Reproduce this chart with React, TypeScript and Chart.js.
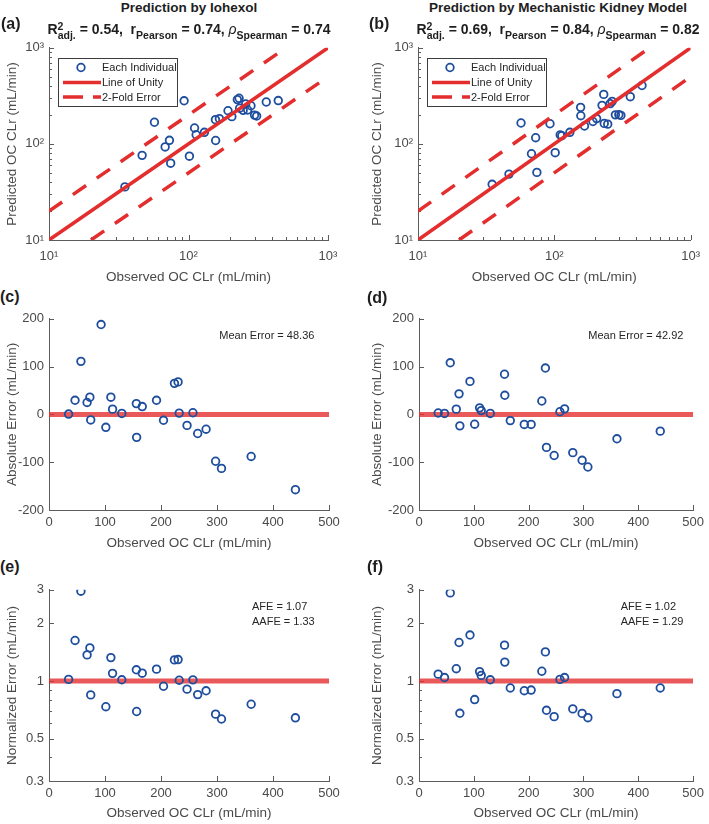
import React, { useEffect, useRef } from 'react';
import { Chart, registerables } from 'chart.js';

Chart.register(...registerables);

const FONT = "'Liberation Sans', Arial, Helvetica, sans-serif";
const BLUE = '#1f4e9e';
const RED = '#e42d2d';
const RED_REF = 'rgba(228, 48, 48, 0.8)';
const AXIS = '#5c5c5c';
const TEXT = '#4a4a4a';
const DARK = '#1e1e1e';

// ---------------- data ----------------
// Observed OC CLr (mL/min) for each individual (shared by all panels)
const OBSERVED = [35, 46.5, 57, 68, 73, 74.5, 93, 101.5, 110.5, 113.5, 130, 156, 156.5, 166.5, 192, 204.5, 224, 230.5, 232.5, 246.5, 257, 265.5, 280.5, 297.5, 308, 361, 440];

// Predicted OC CLr (mL/min)
const PRED_IOHEXOL = [35.7, 76, 168, 93, 109, 63, 281, 74.5, 146.5, 124.5, 132, 178.6, 108.5, 183, 221.5, 192, 289, 298.5, 235, 223.5, 260.5, 225.5, 249.5, 199.5, 195, 273, 282.5];
const PRED_KIDNEY = [38, 48.5, 165, 79, 116, 50.5, 162, 81, 124, 121.5, 132, 240, 196.5, 153.5, 171, 183.5, 252, 327.5, 163.5, 160.5, 262.5, 277, 200.5, 201.5, 198, 310, 405];

// Absolute error (mL/min)
const ABS_ERR_IOHEXOL = [0.7, 29.5, 111, 25, 36, -11.6, 188, -27, 36, 11, 2, 22.6, -48, 16.4, 29.5, -12.3, 65, 68, 2.7, -23, 3.4, -40, -31, -98, -113, -88, -157.5];
const ABS_ERR_KIDNEY = [3, 2, 108, 11, 43, -24, 69, -20.5, 13.7, 8, 2, 84, 40, -13, -21, -21, 28, 97, -69, -86, 5.5, 11.6, -80, -96, -110, -51, -35];

// Normalized error (null: above the axis limit, not drawn in the reference)
const NORM_ERR_IOHEXOL = [1.02, 1.63, 2.95, 1.37, 1.49, 0.846, null, 0.734, 1.326, 1.097, 1.015, 1.145, 0.693, 1.099, 1.154, 0.939, 1.29, 1.295, 1.01, 0.907, 1.014, 0.849, 0.889, 0.671, 0.633, 0.756, 0.642];
const NORM_ERR_KIDNEY = [1.086, 1.043, 2.89, 1.16, 1.59, 0.678, 1.74, 0.8, 1.12, 1.07, 1.015, 1.54, 1.256, 0.92, 0.89, 0.897, 1.125, 1.42, 0.703, 0.651, 1.02, 1.043, 0.715, 0.677, 0.643, 0.859, 0.92];

// Reference lines
const UNITY_X = [10, 1000];
const UNITY_Y = [10, 1000];
const FOLD_UP_X = [10, 500];
const FOLD_UP_Y = [20, 1000];
const FOLD_LO_X = [20, 1000];
const FOLD_LO_Y = [10, 500];
const REF_X = [0, 500];
const ZERO_Y = [0, 0];
const ONE_Y = [1, 1];

// Ticks
const LOG_TICKS = [10, 100, 1000];
const LOG_LABELS = ['10\u00B9', '10\u00B2', '10\u00B3'];
const LOG_MINOR = [20, 30, 40, 50, 60, 70, 80, 90, 200, 300, 400, 500, 600, 700, 800, 900];
const LIN_X_TICKS = [0, 100, 200, 300, 400, 500];
const LIN_X_LABELS = ['0', '100', '200', '300', '400', '500'];
const ABS_Y_TICKS = [-200, -100, 0, 100, 200];
const ABS_Y_LABELS = ['-200', '-100', '0', '100', '200'];
const NORM_Y_TICKS = [0.3, 0.5, 1, 2, 3];
const NORM_Y_LABELS = ['0.3', '0.5', '1', '2', '3'];
const NORM_Y_MINOR = [0.4, 0.6, 0.7, 0.8, 0.9];

// Texts
const LEGEND_LABELS = ['Each Individual', 'Line of Unity', '2-Fold Error'];
const STATS_IOHEXOL = ['0.54', '0.74', '0.74'];
const STATS_KIDNEY = ['0.69', '0.84', '0.82'];
const MEAN_ERR_IOHEXOL = '48.36';
const MEAN_ERR_KIDNEY = '42.92';
const AFE_IOHEXOL = ['1.07', '1.33'];
const AFE_KIDNEY = ['1.02', '1.29'];

// ---------------- helpers ----------------
const pts = (xs: number[], ys: (number | null)[]) => xs.map((x, i) => ({ x, y: ys[i] }));

const scatterDs = (data: any[], order: number) => ({
  data,
  showLine: false,
  pointStyle: 'circle',
  pointRadius: 3.8,
  pointHoverRadius: 3.8,
  pointBorderWidth: 1.8,
  pointBorderColor: BLUE,
  pointBackgroundColor: 'rgba(0,0,0,0)',
  order,
});

const lineDs = (data: any[], color: string, width: number, dash: number[], order: number) => ({
  data,
  showLine: true,
  borderColor: color,
  borderWidth: width,
  borderDash: dash,
  borderCapStyle: 'butt',
  pointRadius: 0,
  pointHoverRadius: 0,
  fill: false,
  order,
});

type PanelSpec = {
  id: string;
  box: { left: number; top: number; width: number; height: number };
  padTop: number;
  padRight: number;
  yW: number;
  xH: number;
  xType: string;
  xMin: number;
  xMax: number;
  xTicks: number[];
  xLabels: string[];
  xMinor: number[];
  xTickPad: number;
  yType: string;
  yMin: number;
  yMax: number;
  yTicks: number[];
  yLabels: string[];
  yMinor: number[];
  yTitle: string;
  datasets: any[];
  legend: boolean;
};

function inwardTicks(spec: PanelSpec) {
  return {
    id: 'inwardTicks',
    beforeDatasetsDraw(chart: any) {
      const { ctx, chartArea: a } = chart;
      const xs = chart.scales.x;
      const ys = chart.scales.y;
      ctx.save();
      ctx.strokeStyle = AXIS;
      ctx.lineWidth = 1;
      ctx.beginPath();
      const bottom = Math.round(a.bottom);
      const left = Math.round(a.left);
      const drawX = (v: number, len: number) => {
        const px = Math.round(xs.getPixelForValue(v)) + 0.5;
        ctx.moveTo(px, bottom);
        ctx.lineTo(px, bottom - len);
      };
      const drawY = (v: number, len: number) => {
        const py = Math.round(ys.getPixelForValue(v)) + 0.5;
        ctx.moveTo(left, py);
        ctx.lineTo(left + len, py);
      };
      spec.xTicks.forEach((v) => drawX(v, 5));
      spec.xMinor.forEach((v) => drawX(v, 3));
      spec.yTicks.forEach((v) => drawY(v, 5));
      spec.yMinor.forEach((v) => drawY(v, 3));
      ctx.stroke();
      ctx.restore();
    },
  };
}

const legendBox = {
  id: 'legendBox',
  afterDraw(chart: any) {
    const { ctx, chartArea: a } = chart;
    const bx = Math.round(a.left + 9) + 0.5;
    const by = Math.round(a.top + 10) + 0.5;
    const bw = 119;
    const bh = 48;
    ctx.save();
    ctx.fillStyle = '#ffffff';
    ctx.fillRect(bx, by, bw, bh);
    ctx.strokeStyle = '#3c3c3c';
    ctx.lineWidth = 1;
    ctx.strokeRect(bx, by, bw, bh);
    const rows = [by + 9, by + 24, by + 38.5];
    ctx.strokeStyle = BLUE;
    ctx.lineWidth = 1.8;
    ctx.beginPath();
    ctx.arc(bx + 22.5, rows[0], 3.8, 0, Math.PI * 2);
    ctx.stroke();
    ctx.strokeStyle = RED;
    ctx.lineWidth = 3.5;
    ctx.lineCap = 'butt';
    ctx.beginPath();
    ctx.moveTo(bx + 4.5, rows[1]);
    ctx.lineTo(bx + 42.5, rows[1]);
    ctx.stroke();
    ctx.setLineDash([20, 10]);
    ctx.beginPath();
    ctx.moveTo(bx + 4.5, rows[2]);
    ctx.lineTo(bx + 42.5, rows[2]);
    ctx.stroke();
    ctx.setLineDash([]);
    ctx.fillStyle = '#262626';
    ctx.font = `11px ${FONT}`;
    ctx.textBaseline = 'middle';
    ctx.textAlign = 'left';
    LEGEND_LABELS.forEach((t, i) => ctx.fillText(t, bx + 43.5, rows[i] + 0.5));
    ctx.restore();
  },
};

function buildConfig(spec: PanelSpec): any {
  const plugins: any[] = [inwardTicks(spec)];
  if (spec.legend) plugins.push(legendBox);
  return {
    type: 'scatter',
    data: { datasets: spec.datasets },
    plugins,
    options: {
      responsive: false,
      maintainAspectRatio: false,
      animation: false,
      events: [],
      layout: { padding: { top: spec.padTop, right: spec.padRight, left: 0, bottom: 0 } },
      plugins: { legend: { display: false }, tooltip: { enabled: false }, title: { display: false } },
      scales: {
        x: {
          type: spec.xType,
          position: 'bottom',
          min: spec.xMin,
          max: spec.xMax,
          afterBuildTicks: (s: any) => {
            s.ticks = spec.xTicks.map((v) => ({ value: v }));
          },
          afterFit: (s: any) => {
            s.height = spec.xH;
          },
          ticks: {
            autoSkip: false,
            maxRotation: 0,
            minRotation: 0,
            padding: spec.xTickPad,
            color: TEXT,
            font: { size: 13, family: FONT },
            callback: (_v: any, i: number) => spec.xLabels[i],
          },
          grid: { display: false, drawTicks: false },
          border: { display: true, color: AXIS, width: 1 },
          title: {
            display: true,
            text: 'Observed OC CLr (mL/min)',
            color: TEXT,
            font: { size: 13.5, family: FONT },
            padding: { top: 0, bottom: 2 },
          },
        },
        y: {
          type: spec.yType,
          position: 'left',
          min: spec.yMin,
          max: spec.yMax,
          afterBuildTicks: (s: any) => {
            s.ticks = spec.yTicks.map((v) => ({ value: v }));
          },
          afterFit: (s: any) => {
            s.width = spec.yW;
          },
          ticks: {
            autoSkip: false,
            padding: 5,
            color: TEXT,
            font: { size: 13, family: FONT },
            callback: (_v: any, i: number) => spec.yLabels[i],
          },
          grid: { display: false, drawTicks: false },
          border: { display: true, color: AXIS, width: 1 },
          title: {
            display: true,
            text: spec.yTitle,
            color: TEXT,
            font: { size: 13.5, family: FONT },
            padding: { top: 4, bottom: 0 },
          },
        },
      },
    },
  };
}

// ---------------- panel specs ----------------
const logBase = {
  xType: 'logarithmic',
  xMin: 10,
  xMax: 1000,
  xTicks: LOG_TICKS,
  xLabels: LOG_LABELS,
  xMinor: LOG_MINOR,
  xTickPad: 9,
  yType: 'logarithmic',
  yMin: 10,
  yMax: 1000,
  yTicks: LOG_TICKS,
  yLabels: LOG_LABELS,
  yMinor: LOG_MINOR,
  yTitle: 'Predicted OC CLr (mL/min)',
  padTop: 10,
  xH: 47,
  legend: true,
};

const absBase = {
  xType: 'linear',
  xMin: 0,
  xMax: 500,
  xTicks: LIN_X_TICKS,
  xLabels: LIN_X_LABELS,
  xMinor: [],
  xTickPad: 5,
  yType: 'linear',
  yMin: -200,
  yMax: 200,
  yTicks: ABS_Y_TICKS,
  yLabels: ABS_Y_LABELS,
  yMinor: [],
  yTitle: 'Absolute Error (mL/min)',
  padTop: 10,
  xH: 43,
  legend: false,
};

const normBase = {
  ...absBase,
  yType: 'logarithmic',
  yMin: 0.3,
  yMax: 3,
  yTicks: NORM_Y_TICKS,
  yLabels: NORM_Y_LABELS,
  yMinor: NORM_Y_MINOR,
  yTitle: 'Normalized Error (mL/min)',
  xH: 42,
};

const logLines = () => [
  lineDs(pts(UNITY_X, UNITY_Y), RED, 3.5, [], 0),
  lineDs(pts(FOLD_UP_X, FOLD_UP_Y), RED, 3.5, [16, 13], 0),
  lineDs(pts(FOLD_LO_X, FOLD_LO_Y), RED, 3.5, [16, 13], 0),
];

const PANELS: PanelSpec[] = [
  {
    ...logBase,
    id: 'a',
    box: { left: 0, top: 35, width: 354, height: 252 },
    padRight: 26,
    yW: 49,
    datasets: [scatterDs(pts(OBSERVED, PRED_IOHEXOL), 1), ...logLines()],
  } as PanelSpec,
  {
    ...logBase,
    id: 'b',
    box: { left: 365, top: 35, width: 344, height: 252 },
    padRight: 12,
    yW: 53,
    datasets: [scatterDs(pts(OBSERVED, PRED_KIDNEY), 1), ...logLines()],
  } as PanelSpec,
  {
    ...absBase,
    id: 'c',
    box: { left: 0, top: 306, width: 354, height: 247 },
    padRight: 25,
    yW: 49,
    datasets: [scatterDs(pts(OBSERVED, ABS_ERR_IOHEXOL), 0), lineDs(pts(REF_X, ZERO_Y), RED_REF, 5, [], 1)],
  } as PanelSpec,
  {
    ...absBase,
    id: 'd',
    box: { left: 365, top: 306, width: 344, height: 247 },
    padRight: 12,
    yW: 54,
    datasets: [scatterDs(pts(OBSERVED, ABS_ERR_KIDNEY), 0), lineDs(pts(REF_X, ZERO_Y), RED_REF, 5, [], 1)],
  } as PanelSpec,
  {
    ...normBase,
    id: 'e',
    box: { left: 0, top: 577, width: 354, height: 246 },
    padRight: 25,
    yW: 49,
    datasets: [scatterDs(pts(OBSERVED, NORM_ERR_IOHEXOL), 0), lineDs(pts(REF_X, ONE_Y), RED_REF, 5, [], 1)],
  } as PanelSpec,
  {
    ...normBase,
    id: 'f',
    box: { left: 365, top: 577, width: 344, height: 246 },
    padRight: 12,
    yW: 54,
    datasets: [scatterDs(pts(OBSERVED, NORM_ERR_KIDNEY), 0), lineDs(pts(REF_X, ONE_Y), RED_REF, 5, [], 1)],
  } as PanelSpec,
];

function Panel({ spec }: { spec: PanelSpec }) {
  const ref = useRef<HTMLCanvasElement>(null);
  useEffect(() => {
    if (!ref.current) return;
    const chart = new Chart(ref.current, buildConfig(spec));
    return () => chart.destroy();
  }, [spec]);
  const { left, top, width, height } = spec.box;
  return (
    <canvas
      ref={ref}
      width={width}
      height={height}
      style={{ position: 'absolute', left, top, width, height, display: 'block' }}
    />
  );
}

// ---------------- HTML texts ----------------
const supStyle: React.CSSProperties = { fontSize: 10.5, verticalAlign: 4, lineHeight: 0 };
const subStyle: React.CSSProperties = { fontSize: 10.5, verticalAlign: -5, lineHeight: 0 };

function StatsLine({ stats, left, width }: { stats: string[]; left: number; width: number }) {
  return (
    <div
      style={{
        position: 'absolute',
        left,
        width,
        top: 20.5,
        textAlign: 'center',
        fontFamily: FONT,
        fontWeight: 'bold',
        fontSize: 14,
        lineHeight: '16px',
        whiteSpace: 'pre',
        color: DARK,
      }}
    >
      <span>R</span>
      <span style={supStyle}>2</span>
      <span style={{ ...subStyle, marginLeft: -5.8 }}>adj.</span>
      <span>{` = ${stats[0]},  r`}</span>
      <span style={subStyle}>Pearson</span>
      <span>{` = ${stats[1]}, `}</span>
      <span style={{ fontStyle: 'italic', fontWeight: 'normal' }}>{'\u03C1'}</span>
      <span style={subStyle}>Spearman</span>
      <span>{` = ${stats[2]}`}</span>
    </div>
  );
}

function Title({ text, left, width }: { text: string; left: number; width: number }) {
  return (
    <div
      style={{
        position: 'absolute',
        left,
        width,
        top: 0,
        textAlign: 'center',
        fontFamily: FONT,
        fontWeight: 'bold',
        fontSize: 13.5,
        lineHeight: '16px',
        whiteSpace: 'nowrap',
        color: DARK,
      }}
    >
      {text}
    </div>
  );
}

function Label({ text, left, top }: { text: string; left: number; top: number }) {
  return (
    <div
      style={{
        position: 'absolute',
        left,
        top,
        fontFamily: FONT,
        fontWeight: 'bold',
        fontSize: 16,
        lineHeight: '18px',
        whiteSpace: 'nowrap',
        color: DARK,
      }}
    >
      {text}
    </div>
  );
}

function Note({ text, left, top }: { text: string; left: number; top: number }) {
  return (
    <div
      style={{
        position: 'absolute',
        left,
        top,
        fontFamily: FONT,
        fontSize: 11,
        lineHeight: '13px',
        whiteSpace: 'pre',
        color: '#262626',
      }}
    >
      {text}
    </div>
  );
}

export default function App() {
  return (
    <div
      style={{
        position: 'absolute',
        left: 0,
        top: 0,
        width: 709,
        height: 824,
        overflow: 'hidden',
        background: '#ffffff',
      }}
    >
      {PANELS.map((p) => (
        <Panel key={p.id} spec={p} />
      ))}
      <Title text="Prediction by Iohexol" left={-11} width={400} />
      <Title text="Prediction by Mechanistic Kidney Model" left={358} width={400} />
      <StatsLine stats={STATS_IOHEXOL} left={-11} width={400} />
      <StatsLine stats={STATS_KIDNEY} left={358} width={400} />
      <Label text="(a)" left={1} top={15.4} />
      <Label text="(b)" left={369} top={15.4} />
      <Label text="(c)" left={0} top={288} />
      <Label text="(d)" left={367} top={288.5} />
      <Label text="(e)" left={0} top={558} />
      <Label text="(f)" left={367} top={558} />
      <Note text={`Mean Error = ${MEAN_ERR_IOHEXOL}`} left={219.3} top={328.7} />
      <Note text={`Mean Error = ${MEAN_ERR_KIDNEY}`} left={588.3} top={328.7} />
      <Note text={`AFE = ${AFE_IOHEXOL[0]}`} left={252} top={599.7} />
      <Note text={`AAFE = ${AFE_IOHEXOL[1]}`} left={252} top={614.7} />
      <Note text={`AFE = ${AFE_KIDNEY[0]}`} left={620.7} top={599.7} />
      <Note text={`AAFE = ${AFE_KIDNEY[1]}`} left={620.7} top={614.7} />
    </div>
  );
}
